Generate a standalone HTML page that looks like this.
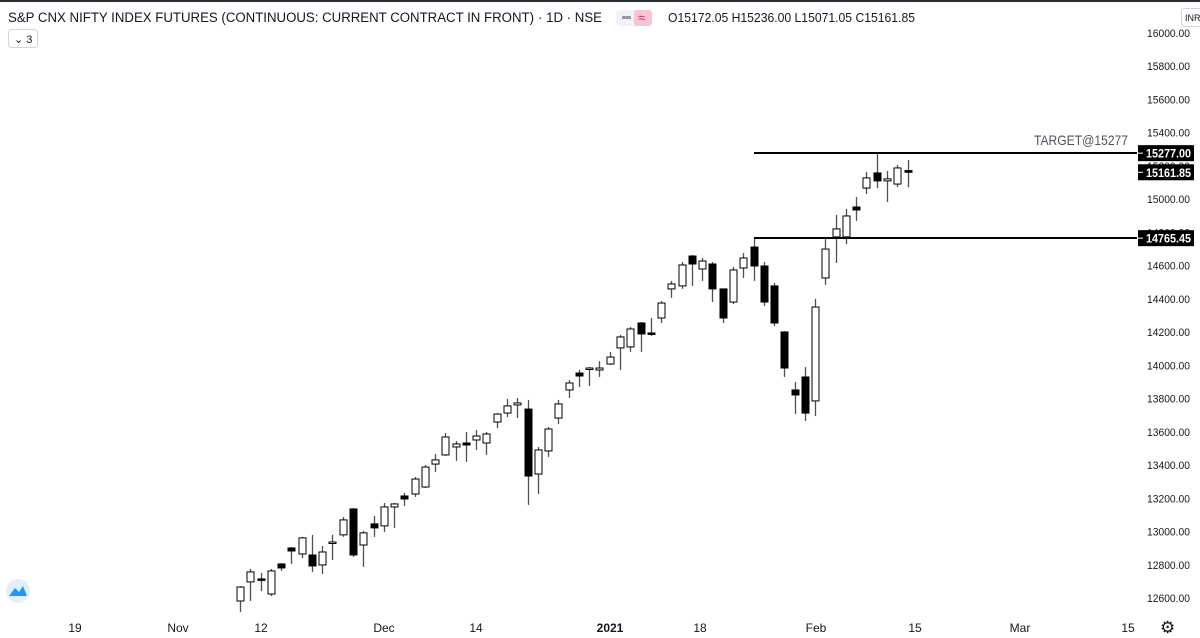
<!DOCTYPE html>
<html><head><meta charset="utf-8">
<style>
html,body{margin:0;padding:0;background:#fff;}
body{width:1200px;height:638px;overflow:hidden;position:relative;font-family:"Liberation Sans",sans-serif;}
svg{position:absolute;left:0;top:0;}
</style></head>
<body>
<svg id="chart" width="1200" height="638" viewBox="0 0 1200 638" xmlns="http://www.w3.org/2000/svg">
<rect x="0" y="0" width="1200" height="2" fill="#2a2e39"/>
<g id="grid"></g>
<g id="candles"></g>
<g id="overlay"></g>
<g id="yaxis"></g>
<g id="xaxis"></g>
<text x="8" y="22" font-size="13.5" fill="#131722" textLength="526" lengthAdjust="spacingAndGlyphs">S&amp;P CNX NIFTY INDEX FUTURES (CONTINUOUS: CURRENT CONTRACT IN FRONT)</text>
<text x="538" y="22" font-size="13.5" fill="#131722" textLength="64" lengthAdjust="spacingAndGlyphs">· 1D · NSE</text>
<rect x="616" y="10" width="36" height="16" rx="4" fill="#f0f3fa"/>
<rect x="622" y="16" width="9" height="3" fill="#9598a1"/>
<rect x="634" y="10" width="18" height="16" rx="3" fill="#f7c5d3"/>
<text x="638" y="22" font-size="13" fill="#e91e63">≈</text>
<text x="668" y="22" font-size="13" fill="#131722" textLength="247" lengthAdjust="spacingAndGlyphs">O15172.05 H15236.00 L15071.05 C15161.85</text>
<rect x="8.5" y="29.5" width="29" height="18" rx="3" fill="#fff" stroke="#d1d4dc"/>
<text x="14" y="43" font-size="11" fill="#131722">⌄ 3</text>
<rect x="1181.5" y="8.5" width="20" height="18" rx="3" fill="#fff" stroke="#d1d4dc"/>
<text x="1185" y="21" font-size="9" fill="#131722">INR</text>
<text x="1034" y="145" font-size="14" fill="#50535e" textLength="94" lengthAdjust="spacingAndGlyphs">TARGET@15277</text>
<circle cx="18" cy="591" r="12" fill="#e3effd"/>
<path d="M9 596 L15 588 L19 592 L23 586 L27 596 Z" fill="#2196f3"/>
<text x="1160" y="633" font-size="17" fill="#131722">⚙</text>
</svg>
<script>
const opens=[12582,12697,12715,12624,12805,12901,12865,12859,12799,12931,12980,13136,12919,13046,13034,13148,13214,13226,13268,13406,13461,13509,13533,13551,13533,13659,13713,13762,13737,13346,13485,13683,13852,13954,13978,13972,14008,14105,14111,14255,14195,14285,14460,14478,14658,14580,14610,14460,14381,14586,14712,14598,14478,14201,13852,13930,13786,14526,14773,14773,14953,15067,15158,15110,15091,15172.05];
const highs=[12672,12775,12751,12775,12811,12907,12968,12980,12913,12980,13088,13142,13004,13094,13172,13172,13232,13328,13400,13467,13593,13545,13599,13611,13599,13713,13798,13804,13792,13509,13629,13792,13912,13972,13990,14026,14081,14183,14231,14261,14285,14387,14508,14622,14664,14646,14622,14460,14592,14676,14765.45,14622,14496,14207,13900,13990,14400,14767,14905,14941,15013,15164,15277,15170,15206,15236];
const lows=[12516,12582,12642,12612,12763,12805,12841,12757,12745,12829,12968,12847,12787,12968,12998,13022,13154,13208,13262,13358,13455,13425,13419,13491,13461,13623,13689,13683,13160,13226,13449,13647,13804,13870,13876,13930,14002,13972,14081,14081,14177,14255,14406,14460,14478,14508,14381,14255,14369,14526,14508,14357,14237,13930,13707,13665,13695,14484,14616,14730,14869,15031,15067,14983,15073,15071.05];
const closes=[12666,12757,12712,12763,12781,12883,12962,12793,12877,12937,13070,12859,12992,13022,13148,13166,13196,13316,13388,13431,13569,13527,13521,13575,13587,13707,13756,13774,13334,13491,13617,13768,13894,13936,13984,13984,14050,14171,14219,14189,14192,14375,14490,14604,14610,14628,14460,14285,14574,14646,14598,14381,14255,13984,13822,13713,14351,14700,14821,14899,14935,15128,15110,15122,15188,15161.85];
const yTicks=[12600,12800,13000,13200,13400,13600,13800,14000,14200,14400,14600,14800,15000,15200,15400,15600,15800,16000];
const xLabels=["19","Nov","12","Dec","14","2021","18","Feb","15","Mar","15"];
const xLabelPos=[75,178,261,384,476,610,700,816,915,1020,1128];
const hLevels=[15277,14765.45];
const lastPrice=15161.85;

const NS="http://www.w3.org/2000/svg";
const yScale=v=>33+(16000-v)*0.16618;
const xScale=i=>240+i*10.27;
function mk(tag,attrs,parent){const e=document.createElementNS(NS,tag);for(const k in attrs)e.setAttribute(k,attrs[k]);parent.appendChild(e);return e;}
const gC=document.getElementById('candles'),gO=document.getElementById('overlay'),gY=document.getElementById('yaxis'),gX=document.getElementById('xaxis');

for(let i=0;i<opens.length;i++){
  const x=Math.round(xScale(i))+0.5;
  const g=mk('g',{},gC);
  
  
  const w=mk('line',{x1:x,x2:x,y1:yScale(highs[i]),y2:yScale(lows[i]),stroke:'#505050','stroke-width':1.3},g);
  
  
  const up=closes[i]>=opens[i];
  const top=yScale(Math.max(opens[i],closes[i])),bot=yScale(Math.min(opens[i],closes[i]));
  const b=mk('rect',{x:x-3.5,y:top,width:7,height:Math.max(1.5,bot-top),fill:up?'#fff':'#000',stroke:'#000','stroke-width':1},g);
  
  
}
hLevels.forEach(v=>{
  const y=Math.round(yScale(v));
  const l=mk('line',{x1:754,x2:1137,y1:y,y2:y,stroke:'#000','stroke-width':2},gO);
  
  
});
yTicks.forEach(v=>{
  const t=mk('text',{x:1147,y:yScale(v)+4,'font-size':11,fill:'#131722',textLength:43,lengthAdjust:'spacingAndGlyphs'},gY);
  t.textContent=v.toFixed(2);
  
  
});
[hLevels[0],lastPrice,hLevels[1]].forEach(v=>{
  const y=yScale(v);
  const r=mk('rect',{x:1138,y:y-8,width:56,height:16,fill:'#000'},gY);
  
  
  mk('line',{x1:1138,x2:1143,y1:y,y2:y,stroke:'#fff'},gY);
  const t=mk('text',{x:1146,y:y+4.5,'font-size':12,'font-weight':'bold',fill:'#fff',textLength:45,lengthAdjust:'spacingAndGlyphs'},gY);
  t.textContent=v.toFixed(2);
  
  
});
xLabels.forEach((s,i)=>{
  const t=mk('text',{x:xLabelPos[i],y:632,'font-size':12,fill:'#131722','text-anchor':'middle'},gX);
  if(s==='2021') t.setAttribute('font-weight','bold');
  t.textContent=s;
  
  
});
</script>
</body></html>
